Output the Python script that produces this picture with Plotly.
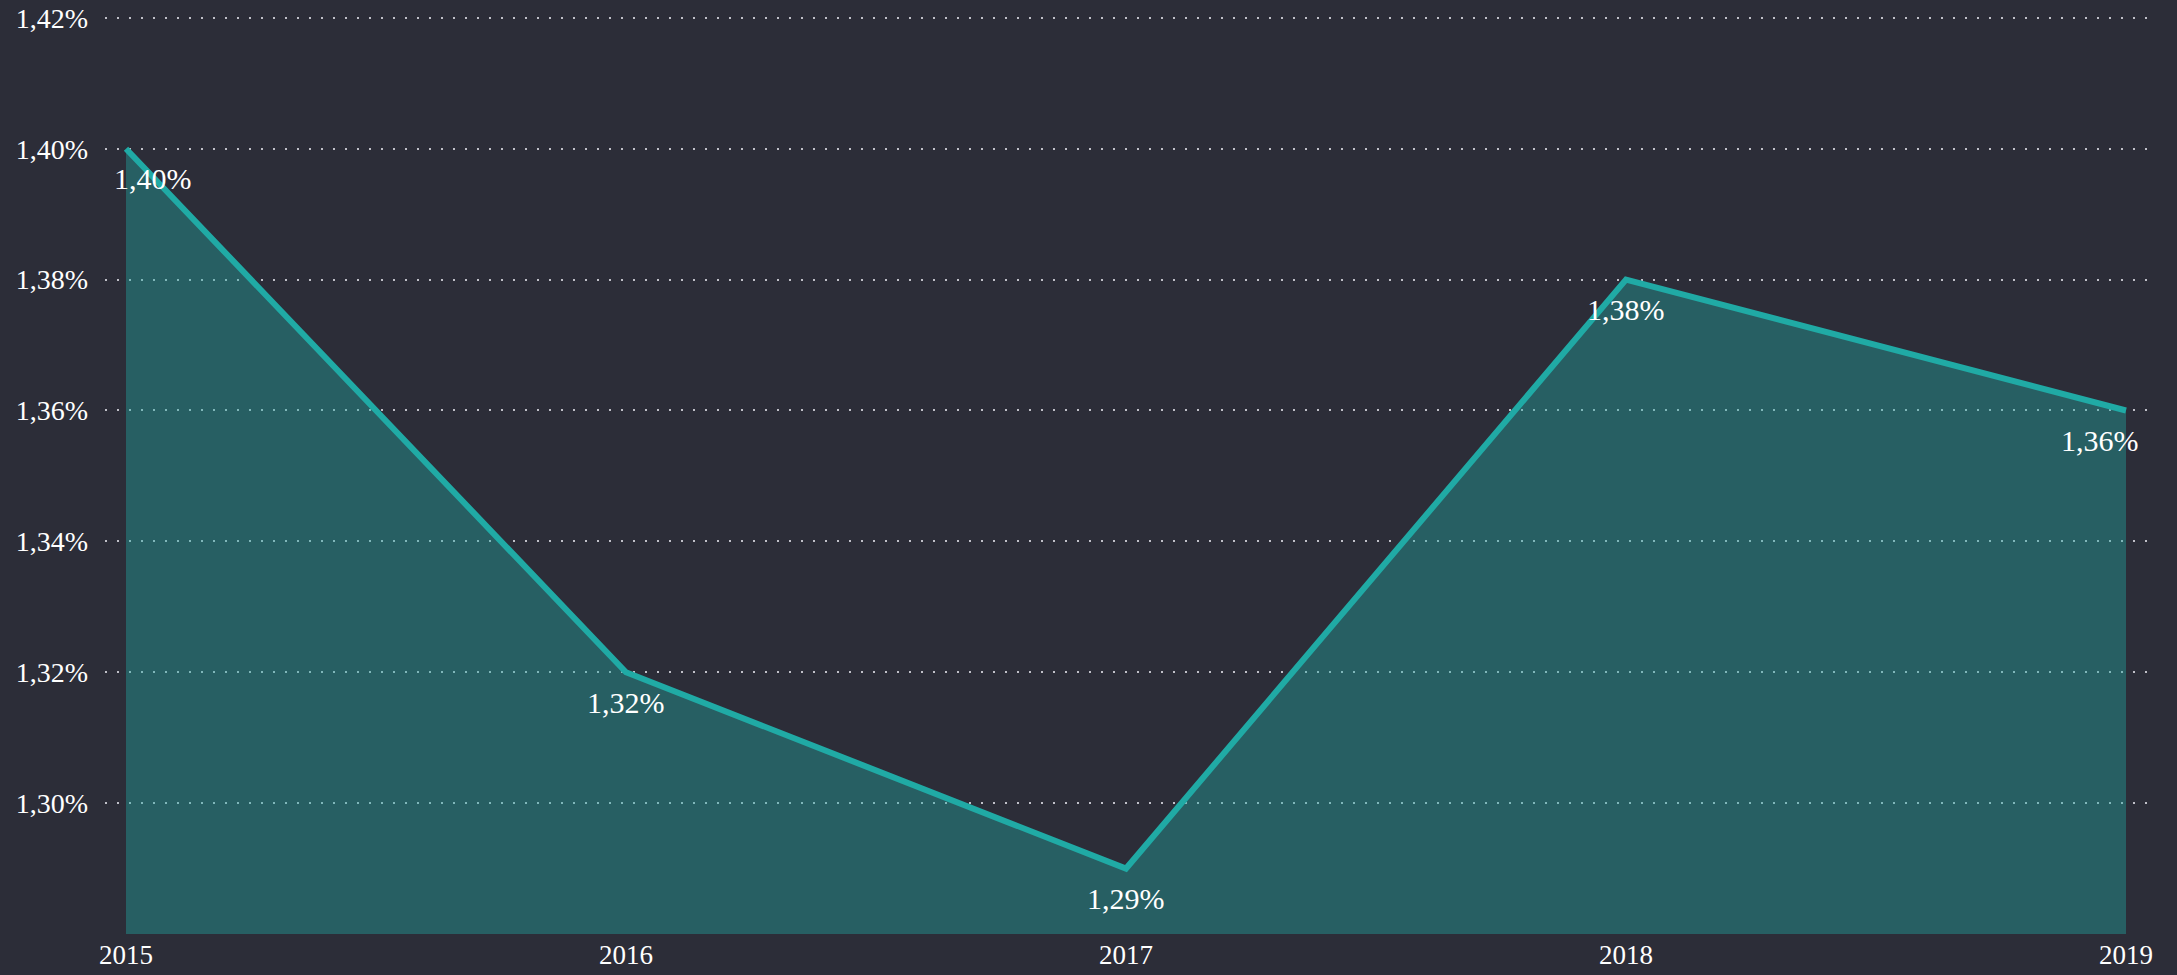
import plotly.graph_objects as go

years = [2015, 2016, 2017, 2018, 2019]
rates = [1.40, 1.32, 1.29, 1.38, 1.36]  # percent
labels = ["1,40%", "1,32%", "1,29%", "1,38%", "1,36%"]
y_ticks = [1.30, 1.32, 1.34, 1.36, 1.38, 1.40, 1.42]

bg = "#2c2d38"
teal = "#20aaa5"

fig = go.Figure()

fig.add_trace(go.Scatter(
    x=years,
    y=rates,
    mode="lines",
    line=dict(color=teal, width=6),
    fill="tozeroy",
    fillcolor="rgba(32,170,165,0.4)",
    hoverinfo="skip",
))

# data labels sit under each point; the two edge ones are nudged inward
for i, (yr, val, lbl) in enumerate(zip(years, rates, labels)):
    shift = 27 if i == 0 else (-26 if i == len(years) - 1 else 0)
    fig.add_annotation(
        x=yr, y=val, text=lbl, showarrow=False,
        xshift=shift, yshift=-30, yanchor="middle",
        font=dict(family="Liberation Serif", size=30, color="#ffffff"),
    )

fig.update_layout(
    width=2177,
    height=975,
    paper_bgcolor=bg,
    plot_bgcolor=bg,
    showlegend=False,
    margin=dict(l=105, r=30, t=10, b=41),
    font=dict(family="Liberation Serif", size=28, color="#ffffff"),
    xaxis=dict(
        range=[2014.958, 2019.042],
        tickvals=years,
        ticktext=[str(y) for y in years],
        tickfont=dict(size=27),
        showgrid=False,
        zeroline=False,
        showline=False,
        ticks="",
        ticklabelstandoff=2,
        automargin=False,
    ),
    yaxis=dict(
        range=[1.28, 1.4212],
        tickvals=y_ticks,
        ticktext=[f"{v:.2f}%".replace(".", ",") for v in y_ticks],
        showgrid=True,
        gridcolor="#c0c0c8",
        gridwidth=2,
        griddash="2px,10px",
        zeroline=False,
        showline=False,
        ticks="",
        ticklabelstandoff=16,
        automargin=False,
    ),
)

fig.write_html(
    "out.html",
    config={"displayModeBar": False},
    post_script="document.body.style.margin='0';document.body.style.background='%s';" % bg,
)
